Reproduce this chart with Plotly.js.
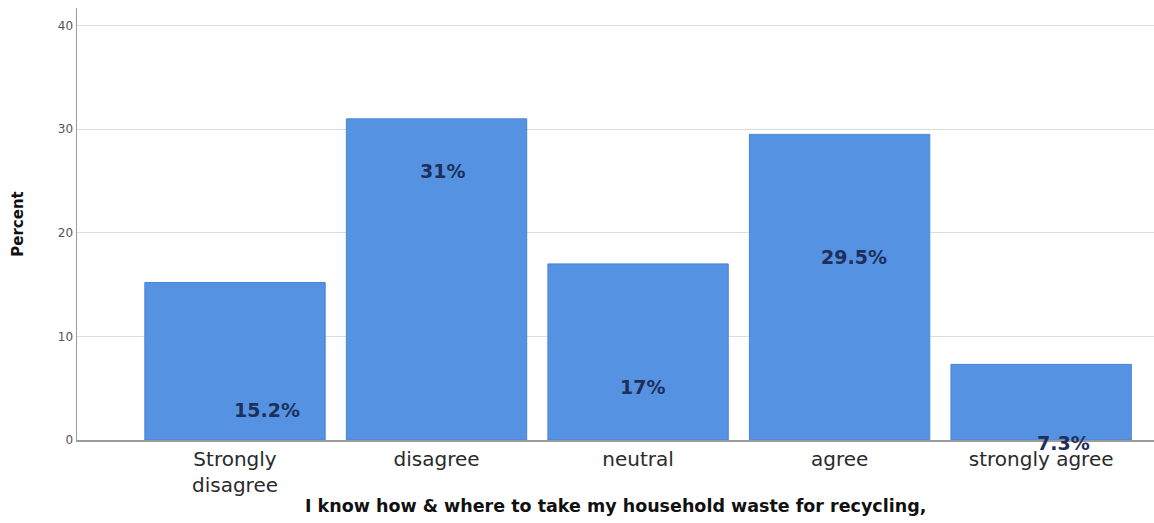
<!DOCTYPE html>
<html>
<head>
<meta charset="utf-8">
<script src="https://cdn.plot.ly/plotly-3.0.1.min.js"></script>
<style>html,body{margin:0;padding:0;background:#fff;}#chart{width:1154px;height:523px;}</style>
</head>
<body>
<div id="chart"></div>
<script>
const categories = ["Strongly<br>disagree", "disagree", "neutral", "agree", "strongly agree"];
const percents = [15.2, 31, 17, 29.5, 7.3];
const valueLabels = ["15.2%", "31%", "17%", "29.5%", "7.3%"];
const yTickValues = [0, 10, 20, 30, 40];

// label placement (layout only)
const labelDx = [0.16, 0.03, 0.02, 0.07, 0.11];
const labelY = [2.9, 26.0, 5.1, 17.7, 0];
const labelShift = [0, 0, 0, 0, -3];

const annotations = valueLabels.map((t, i) => ({
  x: i + labelDx[i], y: labelY[i], xref: 'x', yref: 'y', yshift: labelShift[i],
  text: '<b>' + t + '</b>', showarrow: false,
  font: {family: 'DejaVu Sans, Verdana, sans-serif', size: 19, color: '#1f2f5c'}
}));
annotations.push({
  x: 0.5, y: 0, xref: 'paper', yref: 'paper', yshift: -54,
  xanchor: 'center', yanchor: 'top', showarrow: false,
  text: '<b>I know how &amp; where to take my household waste for recycling,</b>',
  font: {family: 'DejaVu Sans, Verdana, sans-serif', size: 17.5, color: '#111'}
});

const trace = {
  type: 'bar',
  x: categories.map((c, i) => i),
  y: percents,
  marker: {color: '#5593e2', line: {color: '#4a86d6', width: 1}},
  hoverinfo: 'none'
};

const layout = {
  width: 1154, height: 523,
  margin: {l: 77, r: 0, t: 8, b: 83},
  paper_bgcolor: '#fff', plot_bgcolor: '#fff',
  showlegend: false,
  bargap: 0.105,
  xaxis: {
    range: [-0.784, 4.56],
    tickmode: 'array', tickvals: categories.map((c, i) => i), ticktext: categories,
    showgrid: false, zeroline: false,
    showline: true, linecolor: '#9a9a9a', linewidth: 1.5,
    ticks: '', ticklen: 0,
    tickfont: {family: 'DejaVu Sans, Verdana, sans-serif', size: 20, color: '#2a2a2a'}
  },
  yaxis: {
    range: [0, 41.7],
    tickmode: 'array', tickvals: yTickValues, ticktext: yTickValues.map(String),
    showgrid: true, gridcolor: '#dcdcdc', gridwidth: 1,
    zeroline: false,
    showline: true, linecolor: '#9a9a9a', linewidth: 1.5,
    ticks: '', ticklen: 0,
    tickfont: {family: 'DejaVu Sans, Verdana, sans-serif', size: 12, color: '#555'},
    title: {text: '<b>Percent</b>', standoff: 30,
      font: {family: 'DejaVu Sans, Verdana, sans-serif', size: 15, color: '#111'}}
  },
  annotations: annotations
};

Plotly.newPlot('chart', [trace], layout, {staticPlot: true, displayModeBar: false});
</script>
</body>
</html>
